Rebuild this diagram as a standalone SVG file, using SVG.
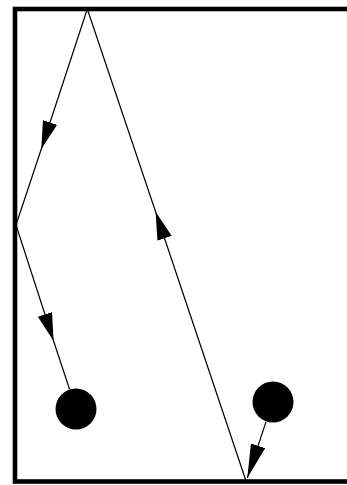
<svg xmlns="http://www.w3.org/2000/svg" width="347" height="485" viewBox="0 0 347 485">
<style>
.edge{fill:none;stroke:#000;stroke-width:1.2}
.node{fill:#000}
.frame{fill:none;stroke:#000;stroke-width:4.6}
</style>
<defs>
<marker id="arr" markerUnits="userSpaceOnUse" markerWidth="28" markerHeight="15" viewBox="0 0 28 15" refX="28" refY="7.5" orient="auto"><path d="M0,0 L28,7.5 L0,15 z" fill="#000"/></marker>
<marker id="arrL" markerUnits="userSpaceOnUse" markerWidth="34" markerHeight="15" viewBox="0 0 34 15" refX="34" refY="7.5" orient="auto"><path d="M0,0 L34,7.5 L0,15 z" fill="#000"/></marker>
</defs>
<rect class="frame" x="15" y="9" width="345" height="472.5"/>
<g id="connectors">
<path class="edge" d="M87.3,9 L41.3,149 L16,225" marker-mid="url(#arr)"/>
<path class="edge" d="M16,225 L53.6,341 L69.6,389.5" marker-mid="url(#arr)"/>
<path class="edge" d="M245.7,480 L155.6,211.7 L87.3,9" marker-mid="url(#arr)"/>
<path class="edge" d="M266,421.9 L247.3,478" marker-end="url(#arrL)"/>
</g>
<g id="nodeA"><circle class="node" cx="76" cy="409" r="20.5"/></g>
<g id="nodeB"><circle class="node" cx="273" cy="402" r="20.5"/></g>
</svg>
